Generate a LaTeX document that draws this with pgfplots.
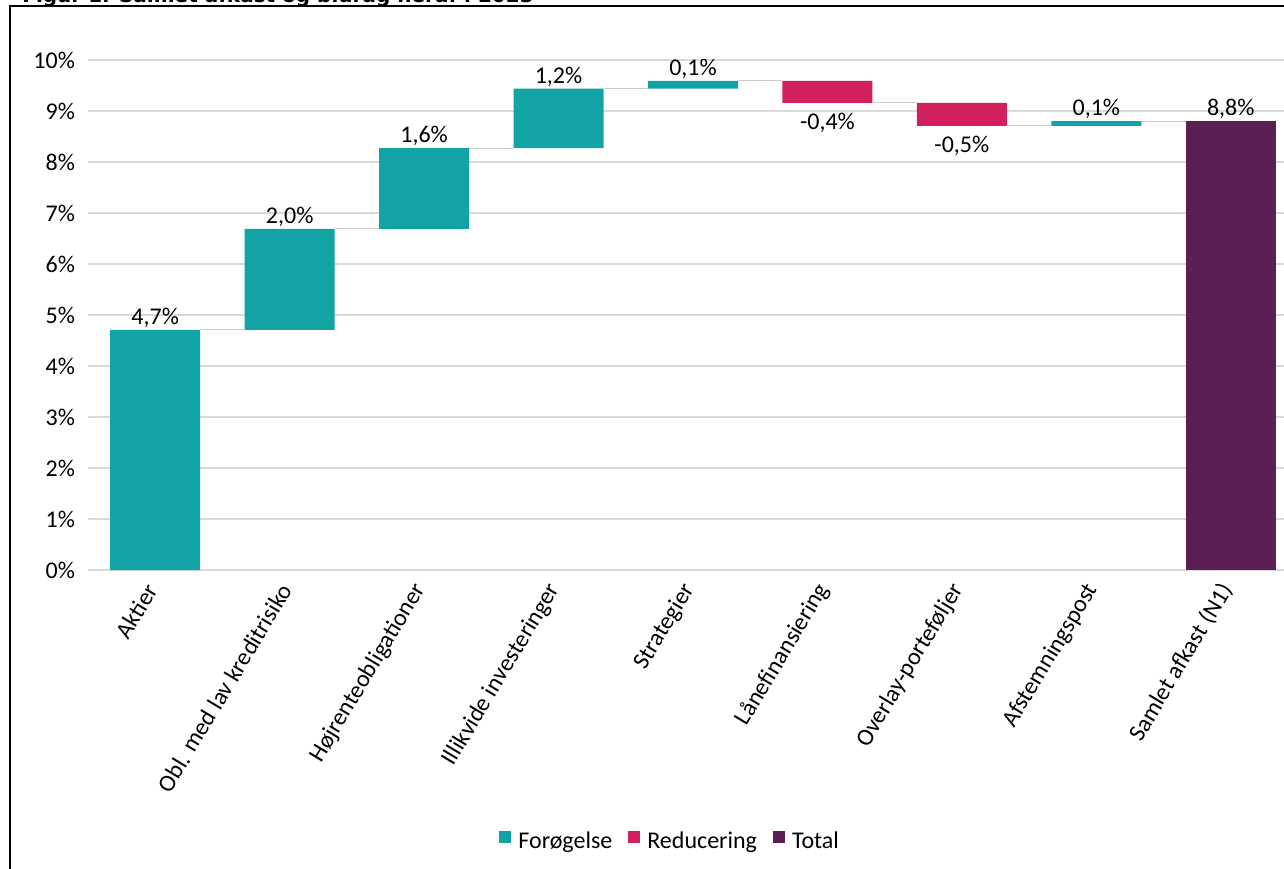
\documentclass[border=0pt]{standalone}
\usepackage{pgfplots}
\pgfplotsset{compat=1.18}
\usepackage{fontspec}
\setmainfont{Carlito}
\newfontfamily\titlefont{DejaVu Sans}
\definecolor{teal1}{RGB}{18,164,164}
\definecolor{pink1}{RGB}{210,31,95}
\definecolor{purp1}{RGB}{91,31,84}
\definecolor{gridc}{RGB}{217,217,217}
\definecolor{connc}{RGB}{205,205,205}
\tikzset{lab/.style={font=\fontsize{12}{14}\selectfont}}
\pgfplotsset{conn/.style={draw=connc, line width=0.6pt, mark=none, solid}}

\begin{document}
\begin{tikzpicture}
\useasboundingbox (0,0) rectangle (642pt,434pt);
\clip (0,0) rectangle (642pt,434pt);
\fill[white] (0,0) rectangle (642pt,434pt);
\node[anchor=base west, inner sep=0pt, font=\titlefont\bfseries\fontsize{10}{12}\selectfont] at (11pt,432.5pt) {Figur 1. Samlet afkast og bidrag heraf i 2023};
\draw[line width=1pt] (4.75pt,-10pt) rectangle (660pt,431pt);

\begin{axis}[
  at={(44pt,149pt)}, anchor=south west,
  scale only axis, width=605pt, height=255pt,
  xmin=-0.5, xmax=8.5, ymin=0, ymax=10,
  ybar stacked, bar width=45pt,
  axis line style={draw=none},
  ymajorgrids, grid style={gridc, line width=0.6pt},
  major tick length=0pt,
  ytick={0,1,2,3,4,5,6,7,8,9,10},
  yticklabels={0\%,1\%,2\%,3\%,4\%,5\%,6\%,7\%,8\%,9\%,10\%},
  xtick={0,1,2,3,4,5,6,7,8},
  xticklabels={Aktier,Obl. med lav kreditrisiko,Højrenteobligationer,Illikvide investeringer,Strategier,Lånefinansiering,Overlay-porteføljer,Afstemningspost,Samlet afkast (N1)},
  xticklabel style={rotate=59, anchor=east},
  xticklabel shift=5pt,
  yticklabel style={xshift=-3pt},
  tick label style={font=\fontsize{12}{14}\selectfont},
  legend image code/.code={\fill[#1] (0pt,-0.5pt) rectangle (6pt,5.5pt); \path (7.5pt,0pt);},
  legend style={at={(0.482,-0.533)}, anchor=center, draw=none, fill=none,
    legend columns=3, font=\fontsize{12}{14}\selectfont,
    /tikz/every even column/.append style={column sep=6pt}},
]
\addplot[draw=none, fill=none, forget plot] coordinates {(0,0) (1,4.71) (2,6.69) (3,8.27) (4,9.44) (5,9.16) (6,8.71) (7,8.71) (8,0)};
\addplot[fill=teal1, draw=none] coordinates {(0,4.71) (1,1.98) (2,1.58) (3,1.17) (4,0.15) (5,0) (6,0) (7,0.09) (8,0)};
\addplot[fill=pink1, draw=none] coordinates {(0,0) (1,0) (2,0) (3,0) (4,0) (5,0.43) (6,0.45) (7,0) (8,0)};
\addplot[fill=purp1, draw=none] coordinates {(0,0) (1,0) (2,0) (3,0) (4,0) (5,0) (6,0) (7,0) (8,8.80)};
\legend{Forøgelse, Reducering, Total}
\node[lab, above, inner sep=1pt] at (axis cs:0,4.71) {4,7\%};
\node[lab, above, inner sep=1pt] at (axis cs:1,6.69) {2,0\%};
\node[lab, above, inner sep=1pt] at (axis cs:2,8.27) {1,6\%};
\node[lab, above, inner sep=1pt] at (axis cs:3,9.44) {1,2\%};
\node[lab, above, inner sep=1pt] at (axis cs:4,9.59) {0,1\%};
\node[lab, below, inner sep=5pt] at (axis cs:5,9.16) {-0,4\%};
\node[lab, below, inner sep=5pt] at (axis cs:6,8.71) {-0,5\%};
\node[lab, above, inner sep=1pt] at (axis cs:7,8.80) {0,1\%};
\node[lab, above, inner sep=1pt] at (axis cs:8,8.80) {8,8\%};
\end{axis}

\begin{axis}[
  at={(44pt,149pt)}, anchor=south west,
  scale only axis, width=605pt, height=255pt,
  xmin=-0.5, xmax=8.5, ymin=0, ymax=10,
  hide axis,
]
\addplot[conn] coordinates {(0.335,4.71) (0.665,4.71)};
\addplot[conn] coordinates {(1.335,6.69) (1.665,6.69)};
\addplot[conn] coordinates {(2.335,8.27) (2.665,8.27)};
\addplot[conn] coordinates {(3.335,9.44) (3.665,9.44)};
\addplot[conn] coordinates {(4.335,9.59) (4.665,9.59)};
\addplot[conn] coordinates {(5.335,9.16) (5.665,9.16)};
\addplot[conn] coordinates {(6.335,8.71) (6.665,8.71)};
\addplot[conn] coordinates {(7.335,8.80) (7.665,8.80)};
\end{axis}
\end{tikzpicture}
\end{document}
